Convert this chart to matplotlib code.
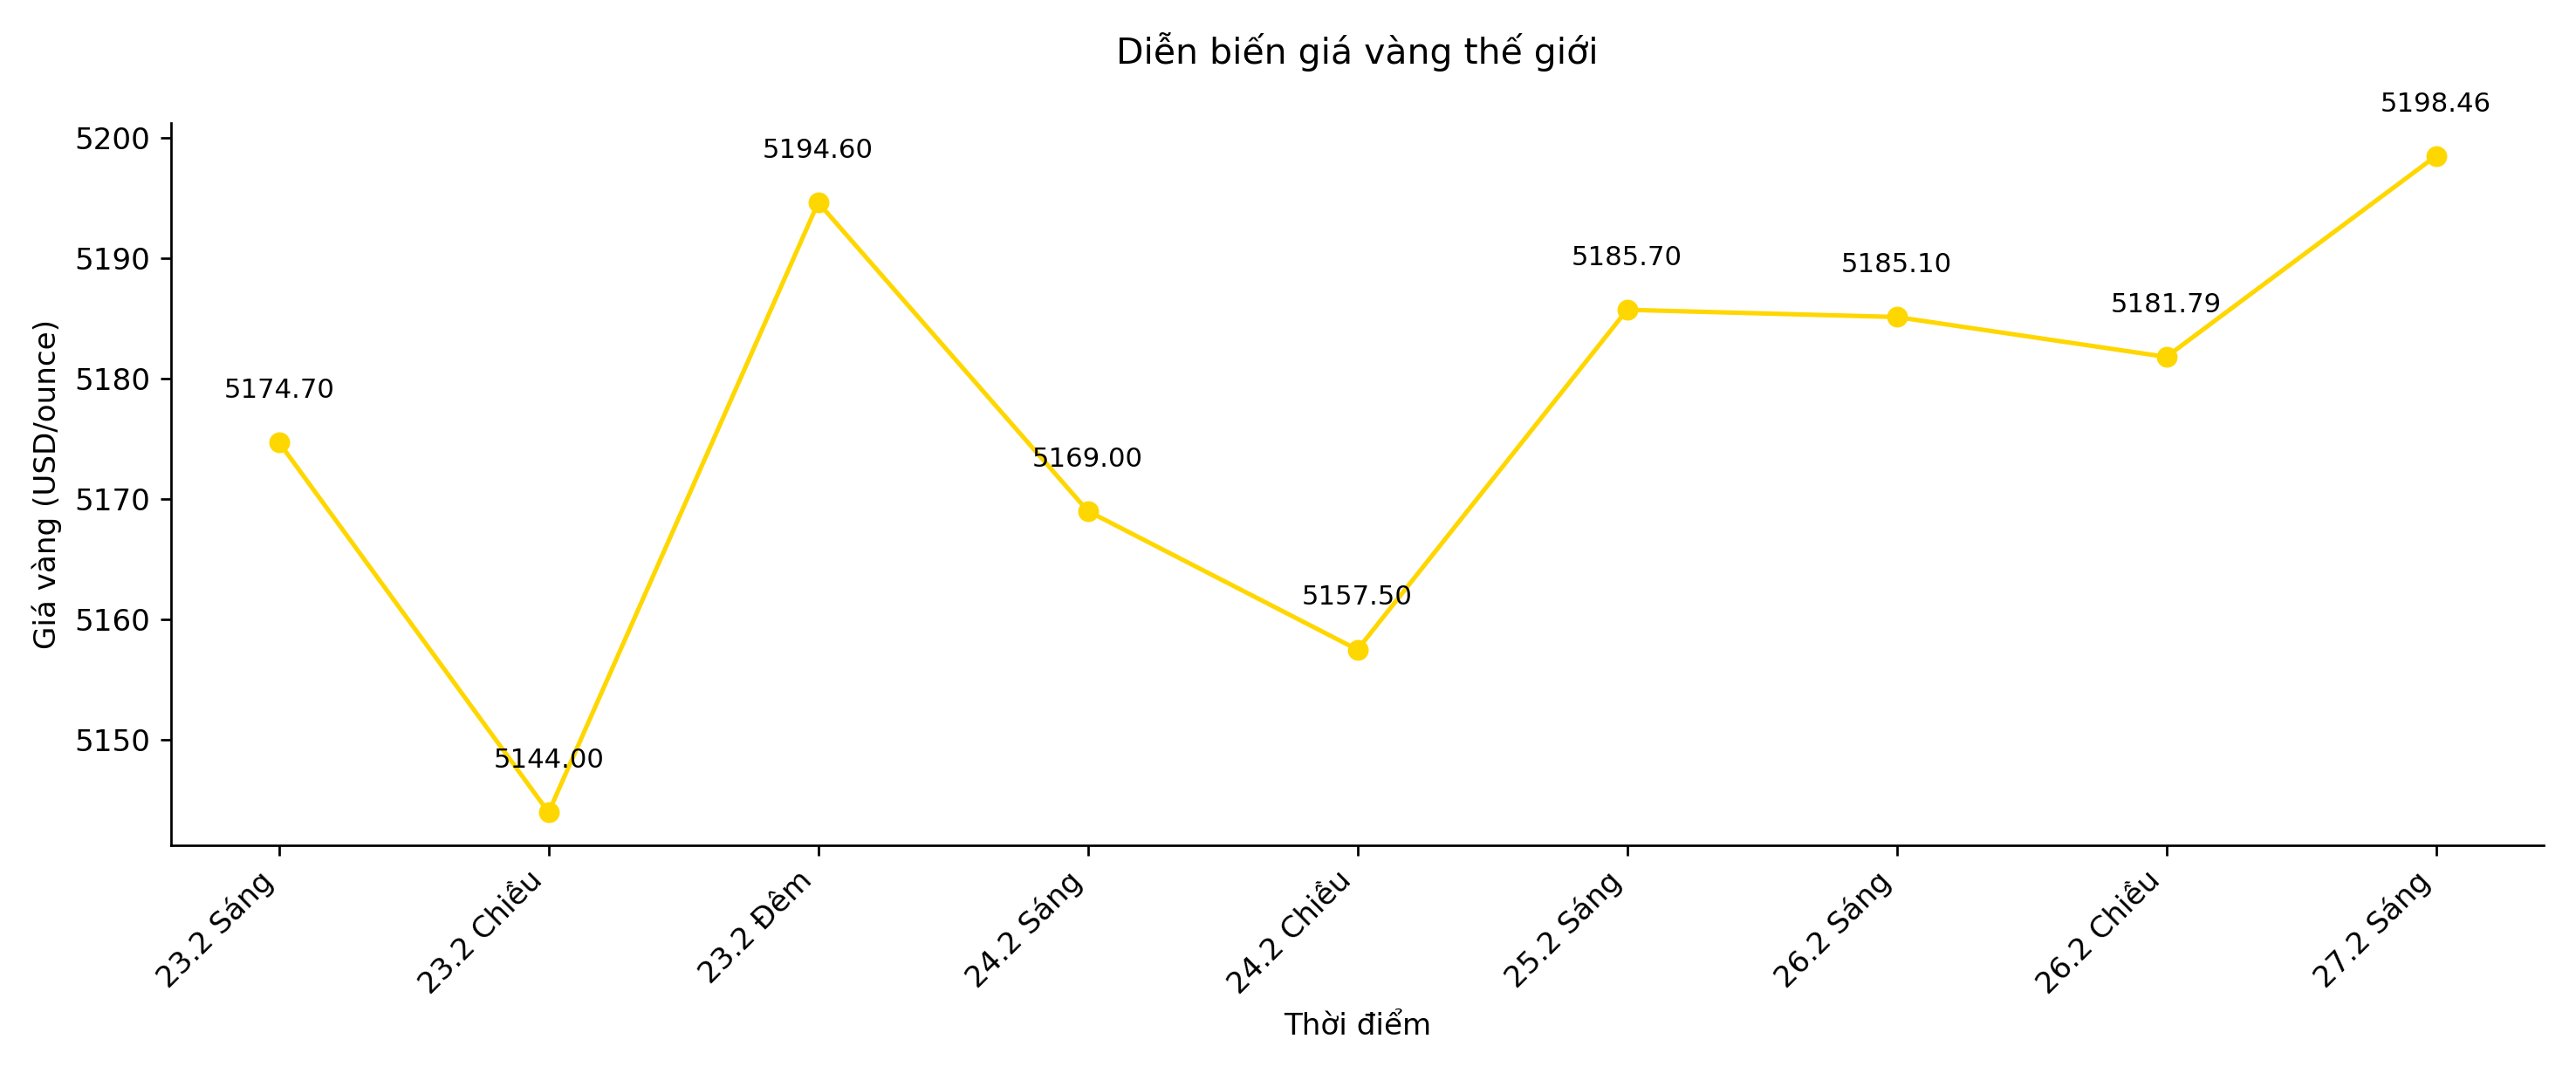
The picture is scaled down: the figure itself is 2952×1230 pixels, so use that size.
import matplotlib
matplotlib.use("Agg")
import matplotlib.pyplot as plt

labels = ["23.2 Sáng", "23.2 Chiều", "23.2 Đêm", "24.2 Sáng", "24.2 Chiều",
          "25.2 Sáng", "26.2 Sáng", "26.2 Chiều", "27.2 Sáng"]
prices = [5174.70, 5144.00, 5194.60, 5169.00, 5157.50, 5185.70, 5185.10, 5181.79, 5198.46]

plt.rcParams['font.family'] = ['DejaVu Sans']
fig, ax = plt.subplots(figsize=(12, 5), dpi=246)
x = list(range(len(labels)))
ax.plot(x, prices, color="#FFD700", marker="o", linewidth=1.5, markersize=6)
for xi, p in zip(x, prices):
    ax.annotate(f"{p:.2f}", (xi, p), xytext=(0, 15), textcoords="offset points",
                ha="center", fontsize=9)
ax.set_xticks(x)
ax.set_xticklabels(labels, rotation=45, ha="right")
ax.set_title("Diễn biến giá vàng thế giới", pad=20)
ax.set_xlabel("Thời điểm")
ax.set_ylabel("Giá vàng (USD/ounce)")
ax.spines['top'].set_visible(False)
ax.spines['right'].set_visible(False)
fig.tight_layout()
fig.savefig("out.png")
